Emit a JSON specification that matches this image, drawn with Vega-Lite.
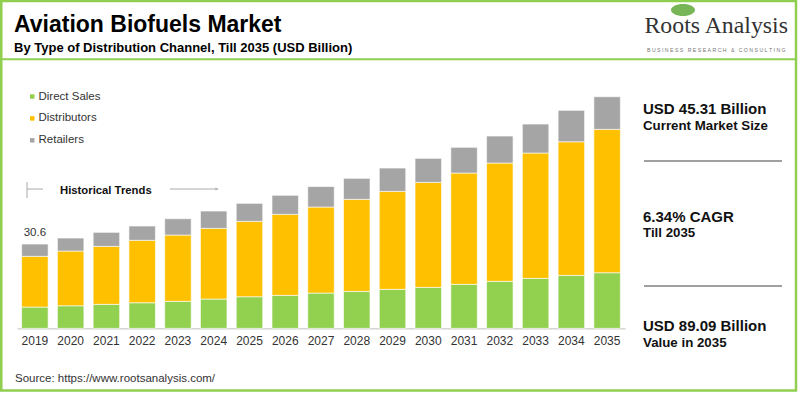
{
  "$schema": "https://vega.github.io/schema/vega-lite/v6.json",
  "autosize": {"type": "none"},
  "width": 608,
  "height": 248,
  "padding": {"left": 17, "top": 80.35, "right": 175, "bottom": 64.65},
  "background": "#ffffff",
  "datasets": {
    "market": [
      {"year": "2019", "channel": "Direct Sales", "value": 7.73},
      {"year": "2019", "channel": "Distributors", "value": 18.40},
      {"year": "2019", "channel": "Retailers", "value": 4.46},
      {"year": "2020", "channel": "Direct Sales", "value": 8.20},
      {"year": "2020", "channel": "Distributors", "value": 19.85},
      {"year": "2020", "channel": "Retailers", "value": 4.72},
      {"year": "2021", "channel": "Direct Sales", "value": 8.71},
      {"year": "2021", "channel": "Distributors", "value": 21.05},
      {"year": "2021", "channel": "Retailers", "value": 5.08},
      {"year": "2022", "channel": "Direct Sales", "value": 9.29},
      {"year": "2022", "channel": "Distributors", "value": 22.65},
      {"year": "2022", "channel": "Retailers", "value": 5.19},
      {"year": "2023", "channel": "Direct Sales", "value": 9.80},
      {"year": "2023", "channel": "Distributors", "value": 24.06},
      {"year": "2023", "channel": "Retailers", "value": 5.92},
      {"year": "2024", "channel": "Direct Sales", "value": 10.63},
      {"year": "2024", "channel": "Distributors", "value": 25.66},
      {"year": "2024", "channel": "Retailers", "value": 6.28},
      {"year": "2025", "channel": "Direct Sales", "value": 11.47},
      {"year": "2025", "channel": "Distributors", "value": 27.36},
      {"year": "2025", "channel": "Retailers", "value": 6.53},
      {"year": "2026", "channel": "Direct Sales", "value": 11.98},
      {"year": "2026", "channel": "Distributors", "value": 29.40},
      {"year": "2026", "channel": "Retailers", "value": 6.90},
      {"year": "2027", "channel": "Direct Sales", "value": 12.81},
      {"year": "2027", "channel": "Distributors", "value": 31.21},
      {"year": "2027", "channel": "Retailers", "value": 7.44},
      {"year": "2028", "channel": "Direct Sales", "value": 13.43},
      {"year": "2028", "channel": "Distributors", "value": 33.39},
      {"year": "2028", "channel": "Retailers", "value": 7.62},
      {"year": "2029", "channel": "Direct Sales", "value": 14.15},
      {"year": "2029", "channel": "Distributors", "value": 35.56},
      {"year": "2029", "channel": "Retailers", "value": 8.46},
      {"year": "2030", "channel": "Direct Sales", "value": 14.88},
      {"year": "2030", "channel": "Distributors", "value": 38.10},
      {"year": "2030", "channel": "Retailers", "value": 8.71},
      {"year": "2031", "channel": "Direct Sales", "value": 15.97},
      {"year": "2031", "channel": "Distributors", "value": 40.39},
      {"year": "2031", "channel": "Retailers", "value": 9.33},
      {"year": "2032", "channel": "Direct Sales", "value": 17.06},
      {"year": "2032", "channel": "Distributors", "value": 42.93},
      {"year": "2032", "channel": "Retailers", "value": 9.80},
      {"year": "2033", "channel": "Direct Sales", "value": 18.15},
      {"year": "2033", "channel": "Distributors", "value": 45.47},
      {"year": "2033", "channel": "Retailers", "value": 10.52},
      {"year": "2034", "channel": "Direct Sales", "value": 19.23},
      {"year": "2034", "channel": "Distributors", "value": 48.48},
      {"year": "2034", "channel": "Retailers", "value": 11.40},
      {"year": "2035", "channel": "Direct Sales", "value": 20.18},
      {"year": "2035", "channel": "Distributors", "value": 52.04},
      {"year": "2035", "channel": "Retailers", "value": 11.83}
    ],
    "totals": [
      {"year": "2019", "total": 30.6, "label": "30.6"}
    ],
    "note": [{"text": "x"}]
  },
  "layer": [
    {
      "data": {"name": "market"},
      "mark": {"type": "bar", "stroke": "#ffffff", "strokeWidth": 0.6},
      "encoding": {
        "x": {
          "field": "year",
          "type": "ordinal",
          "scale": {"paddingInner": 0.26, "paddingOuter": 0.13},
          "axis": {
            "title": null,
            "labelAngle": 0,
            "ticks": false,
            "labelPadding": 7,
            "labelFont": "Liberation Sans",
            "labelFontSize": 12,
            "labelColor": "#333333",
            "domainColor": "#bfbfbf",
            "domainWidth": 1
          }
        },
        "y": {
          "field": "value",
          "type": "quantitative",
          "stack": "zero",
          "scale": {"domain": [0, 90], "nice": false},
          "axis": null
        },
        "color": {
          "field": "channel",
          "type": "nominal",
          "scale": {
            "domain": ["Direct Sales", "Distributors", "Retailers"],
            "range": ["#92d050", "#ffc000", "#a5a5a5"]
          },
          "legend": {
            "title": null,
            "orient": "none",
            "legendX": 9.5,
            "legendY": 10.4,
            "padding": 0,
            "symbolType": "square",
            "symbolSize": 20,
            "symbolStrokeWidth": 0,
            "labelOffset": 0.5,
            "labelFont": "Liberation Sans",
            "labelFontSize": 11.5,
            "labelColor": "#333333",
            "rowPadding": 8.9
          }
        },
        "order": {"field": "channel", "sort": "ascending"}
      }
    },
    {
      "data": {"name": "totals"},
      "mark": {"type": "text", "dy": -8, "baseline": "alphabetic", "font": "Liberation Sans", "fontSize": 11.5, "color": "#333333"},
      "encoding": {
        "x": {"field": "year", "type": "ordinal"},
        "y": {"field": "total", "type": "quantitative"},
        "text": {"field": "label"}
      }
    },
    {
      "data": {"name": "note"},
      "layer": [
        {"mark": {"type": "rect", "fill": null, "stroke": "#8fce4f", "strokeWidth": 2.5},
         "encoding": {"x": {"value": -15.75}, "x2": {"value": 779}, "y": {"value": -79.35}, "y2": {"value": 310.15}}},
        {"mark": {"type": "rule", "stroke": "#8fce4f", "strokeWidth": 2},
         "encoding": {"x": {"value": -15}, "x2": {"value": 779}, "y": {"value": -21.15}}},
        {"mark": {"type": "text", "text": "Aviation Biofuels Market", "align": "left", "baseline": "alphabetic", "font": "Liberation Sans", "fontSize": 23, "fontWeight": "bold", "color": "#000000"},
         "encoding": {"x": {"value": -3}, "y": {"value": -48.65}}},
        {"mark": {"type": "text", "text": "By Type of Distribution Channel, Till 2035 (USD Billion)", "align": "left", "baseline": "alphabetic", "font": "Liberation Sans", "fontSize": 13, "fontWeight": "bold", "color": "#000000"},
         "encoding": {"x": {"value": -3}, "y": {"value": -28.2}}},
        {"mark": {"type": "rule", "stroke": "#808080", "strokeWidth": 1.5},
         "encoding": {"x": {"value": 627}, "x2": {"value": 765}, "y": {"value": 80.65}}},
        {"mark": {"type": "rule", "stroke": "#808080", "strokeWidth": 1.5},
         "encoding": {"x": {"value": 627}, "x2": {"value": 765}, "y": {"value": 205.65}}},
        {"mark": {"type": "rule", "stroke": "#aaaaaa", "strokeWidth": 1},
         "encoding": {"x": {"value": 10}, "y": {"value": 101.65}, "y2": {"value": 117.65}}},
        {"mark": {"type": "rule", "stroke": "#aaaaaa", "strokeWidth": 1},
         "encoding": {"x": {"value": 10}, "x2": {"value": 26}, "y": {"value": 108.65}}},
        {"mark": {"type": "rule", "stroke": "#aaaaaa", "strokeWidth": 1},
         "encoding": {"x": {"value": 153}, "x2": {"value": 201}, "y": {"value": 108.65}}},
        {"mark": {"type": "point", "shape": "triangle-right", "filled": true, "color": "#aaaaaa", "size": 14},
         "encoding": {"x": {"value": 200}, "y": {"value": 108.65}}},
        {"mark": {"type": "text", "text": "Historical Trends", "align": "left", "baseline": "alphabetic", "font": "Liberation Sans", "fontSize": 11.3, "fontWeight": "bold", "color": "#111111"},
         "encoding": {"x": {"value": 43}, "y": {"value": 113.95}}},
        {"mark": {"type": "text", "text": "USD 45.31 Billion", "align": "left", "baseline": "alphabetic", "font": "Liberation Sans", "fontSize": 15, "fontWeight": "bold", "color": "#111111"},
         "encoding": {"x": {"value": 626}, "y": {"value": 33.2}}},
        {"mark": {"type": "text", "text": "Current Market Size", "align": "left", "baseline": "alphabetic", "font": "Liberation Sans", "fontSize": 13.3, "fontWeight": "bold", "color": "#111111"},
         "encoding": {"x": {"value": 626}, "y": {"value": 49.8}}},
        {"mark": {"type": "text", "text": "6.34% CAGR", "align": "left", "baseline": "alphabetic", "font": "Liberation Sans", "fontSize": 15, "fontWeight": "bold", "color": "#111111"},
         "encoding": {"x": {"value": 626}, "y": {"value": 141.5}}},
        {"mark": {"type": "text", "text": "Till 2035", "align": "left", "baseline": "alphabetic", "font": "Liberation Sans", "fontSize": 13.3, "fontWeight": "bold", "color": "#111111"},
         "encoding": {"x": {"value": 626}, "y": {"value": 157.1}}},
        {"mark": {"type": "text", "text": "USD 89.09 Billion", "align": "left", "baseline": "alphabetic", "font": "Liberation Sans", "fontSize": 15, "fontWeight": "bold", "color": "#111111"},
         "encoding": {"x": {"value": 626}, "y": {"value": 250.5}}},
        {"mark": {"type": "text", "text": "Value in 2035", "align": "left", "baseline": "alphabetic", "font": "Liberation Sans", "fontSize": 13.3, "fontWeight": "bold", "color": "#111111"},
         "encoding": {"x": {"value": 626}, "y": {"value": 266.5}}},
        {"mark": {"type": "point", "shape": "M-1,0A1,0.5 0 1,0 1,0A1,0.5 0 1,0 -1,0Z", "filled": true, "color": "#5fa83a", "size": 576, "opacity": 0.85},
         "encoding": {"x": {"value": 666}, "y": {"value": -70.35}}},
        {"mark": {"type": "text", "text": "Roots Analysis", "align": "left", "baseline": "alphabetic", "font": "Liberation Serif", "fontSize": 23.8, "color": "#333333"},
         "encoding": {"x": {"value": 627.5}, "y": {"value": -47.05}}},
        {"mark": {"type": "text", "text": "B\u00a0U\u00a0S\u00a0I\u00a0N\u00a0E\u00a0S\u00a0S\u00a0\u00a0\u00a0R\u00a0E\u00a0S\u00a0E\u00a0A\u00a0R\u00a0C\u00a0H\u00a0\u00a0\u00a0&\u00a0\u00a0\u00a0C\u00a0O\u00a0N\u00a0S\u00a0U\u00a0L\u00a0T\u00a0I\u00a0N\u00a0G", "align": "left", "baseline": "alphabetic", "font": "Liberation Sans", "fontSize": 5.2, "color": "#777777"},
         "encoding": {"x": {"value": 630}, "y": {"value": -28.35}}},
        {"mark": {"type": "text", "text": "Source: https://www.rootsanalysis.com/", "align": "left", "baseline": "alphabetic", "font": "Liberation Sans", "fontSize": 11.5, "color": "#333333"},
         "encoding": {"x": {"value": -2}, "y": {"value": 301.65}}}
      ]
    }
  ],
  "config": {
    "view": {"stroke": null},
    "font": "Liberation Sans"
  }
}
